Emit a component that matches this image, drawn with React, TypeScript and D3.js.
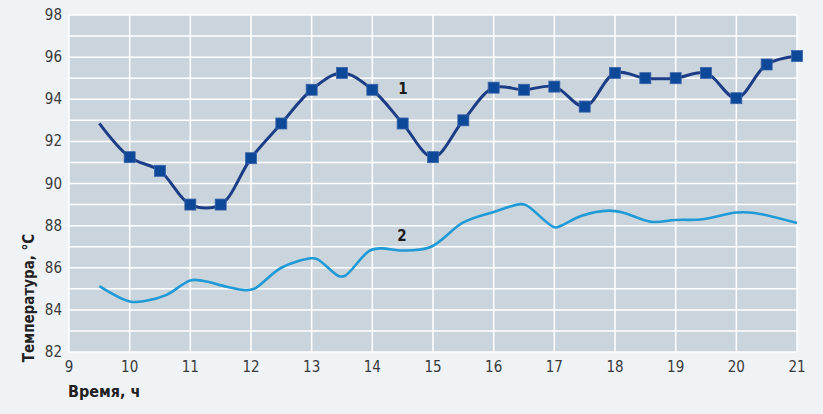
import React from 'react'
import * as d3 from 'd3'

// кривая 1 — с маркерами (точка 9.5 без маркера)
const hours1 = [9.5, 10, 10.5, 11, 11.5, 12, 12.5, 13, 13.5, 14, 14.5, 15, 15.5, 16, 16.5, 17, 17.5, 18, 18.5, 19, 19.5, 20, 20.5, 21]
const temp1 = [92.85, 91.25, 90.6, 89.0, 89.0, 91.2, 92.85, 94.45, 95.25, 94.45, 92.85, 91.25, 93.0, 94.55, 94.45, 94.6, 93.65, 95.25, 95.0, 95.0, 95.25, 94.05, 95.65, 96.05]

// кривая 2 — без маркеров
const hours2 = [9.5, 10, 10.25, 10.6, 11, 11.2, 11.6, 11.9, 12.05, 12.5, 13, 13.1, 13.45, 13.55, 13.95, 14.15, 14.45, 14.95, 15.5, 16, 16.45, 16.55, 17, 17.1, 17.45, 17.9, 18.15, 18.6, 19, 19.45, 20, 20.3, 21]
const temp2 = [85.13, 84.4, 84.42, 84.7, 85.4, 85.38, 85.1, 84.94, 85.0, 86.0, 86.45, 86.4, 85.6, 85.62, 86.8, 86.92, 86.82, 86.97, 88.15, 88.65, 89.02, 88.95, 87.92, 87.98, 88.47, 88.71, 88.6, 88.18, 88.27, 88.3, 88.62, 88.6, 88.12]

const xTicks = d3.range(9, 22, 1)
const yTicks = d3.range(82, 99, 2)
const yGrid = d3.range(82, 99, 1)

const W = 823, H = 414
const left = 69, right = 797, top = 15, bottom = 352

const x = d3.scaleLinear().domain([9, 21]).range([left, right])
const y = d3.scaleLinear().domain([82, 98]).range([bottom, top])

const thin = '"Liberation Sans Narrow", "DejaVu Sans Condensed", sans-serif'
const bold = '"DejaVu Sans Condensed", "Liberation Sans Narrow", sans-serif'

export default function App() {
  const line = d3.line<[number, number]>()
    .x(d => x(d[0]))
    .y(d => y(d[1]))
    .curve(d3.curveCatmullRom.alpha(0.5))

  const pts1 = hours1.map((h, i) => [h, temp1[i]] as [number, number])
  const pts2 = hours2.map((h, i) => [h, temp2[i]] as [number, number])
  const ms = 11

  return (
    <svg width={W} height={H} style={{ position: 'absolute', left: 0, top: 0, background: '#eff3f6' }}>
      <rect x={left} y={top} width={right - left} height={bottom - top} fill="#cad4dc" />
      {yGrid.map(t => (
        <line key={'h' + t} x1={left} x2={right} y1={y(t)} y2={y(t)} stroke="#fff" strokeWidth={1.5} />
      ))}
      {xTicks.map(t => (
        <line key={'v' + t} x1={x(t)} x2={x(t)} y1={top} y2={bottom} stroke="#fff" strokeWidth={1.5} />
      ))}

      <path d={line(pts2) || ''} fill="none" stroke="#1f9ad6" strokeWidth={2.6} />
      <path d={line(pts1) || ''} fill="none" stroke="#1c3d86" strokeWidth={3} />
      {pts1.slice(1).map((d, i) => (
        <rect key={'m' + i} x={x(d[0]) - ms / 2} y={y(d[1]) - ms / 2} width={ms} height={ms}
          fill="#0e4899" stroke="#3a64a8" strokeWidth={0.8} />
      ))}

      <text x={403} y={89} fontFamily={bold} fontWeight="bold" fontSize={15} textAnchor="middle" dominantBaseline="central" fill="#1a1a1a">1</text>
      <text x={402} y={236} fontFamily={bold} fontWeight="bold" fontSize={15} textAnchor="middle" dominantBaseline="central" fill="#1a1a1a">2</text>

      {yTicks.map(t => (
        <text key={'yl' + t} x={62} y={y(t)} fontFamily={thin} fontSize={15} textAnchor="end" dominantBaseline="central" fill="#3a3a3a">{t}</text>
      ))}
      {xTicks.map(t => (
        <text key={'xl' + t} x={x(t)} y={367} fontFamily={thin} fontSize={15} textAnchor="middle" dominantBaseline="central" fill="#3a3a3a">{t}</text>
      ))}

      <text transform={`translate(29,298) rotate(-90)`} fontFamily={bold} fontWeight="bold" fontSize={15} textAnchor="middle" dominantBaseline="central" fill="#222">Температура, °C</text>
      <text x={68} y={391} fontFamily={bold} fontWeight="bold" fontSize={16} dominantBaseline="central" fill="#222">Время, ч</text>
    </svg>
  )
}
